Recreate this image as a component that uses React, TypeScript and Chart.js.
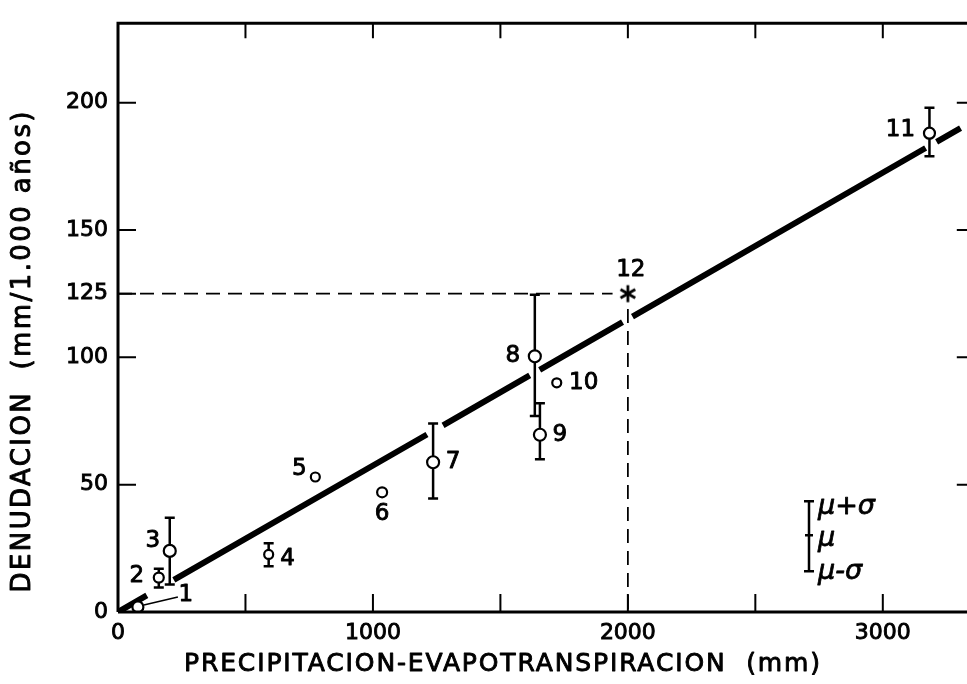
import React, { useEffect, useRef } from 'react';
import { Chart, registerables } from 'chart.js';

Chart.register(...registerables);

// ---- data ----
const pointLabels = ['1', '2', '3', '4', '5', '6', '7', '8', '9', '10', '11', '12'];
const precipitation = [78, 160, 203, 591, 774, 1036, 1236, 1635, 1655, 1721, 3183, 2000];
const denudation = [2, 13.5, 24, 22.6, 53, 47, 58.8, 100.4, 69.6, 90, 188, 125];
const sigmaLow = [null, 9.6, 10.8, 18, null, null, 44.6, 77, 60, null, 179, null];
const sigmaHigh = [null, 17, 37, 27, null, null, 74, 124.6, 82, null, 198, null];

// regression line, drawn as broken segments (gaps where it crosses bars)
const fitSegmentsX = [[0, 113], [219, 1212], [1275, 1615], [1654, 1979], [2018, 3168], [3211, 3305]];
const fitSegmentsY = [[0, 6.5], [12.6, 69.7], [73.3, 92.9], [95.1, 113.8], [116.0, 182.2], [184.6, 190.0]];

// dashed reading guide for point 12
const guideHorizX = [0, 1940];
const guideHorizY = [125, 125];
const guideVertX = [2000, 2000];
const guideVertY = [119, 0];

const xTickValues = [0, 500, 1000, 1500, 2000, 2500, 3000];
const xTickLabels = ['0', '', '1000', '', '2000', '', '3000'];
const yTickValues = [0, 50, 100, 125, 150, 200];
const yTickLabels = ['0', '50', '100', '125', '150', '200'];
const rightTickValues = [0, 50, 100, 150, 200];

const xTitle = 'PRECIPITACION-EVAPOTRANSPIRACION  (mm)';
const yTitle = 'DENUDACION  (mm/1.000 años)';
const legendTexts = ['\u03bc+\u03c3', '\u03bc', '\u03bc-\u03c3'];

// ---- styles ----
const FONT = 'DejaVu Sans';
const CANVAS_W = 985;
const CANVAS_H = 684;
const markerRadius = [5.5, 5, 6, 4.5, 4.5, 5, 6, 6, 6, 4.5, 5.5, 10];
const labelOffsets = [[48, -12], [-22, -2], [-17, -10], [19, 5], [-16, -8], [0, 22], [20, 0], [-22, 0], [20, 0], [27, 0], [-29, -3], [3, -24]];

function makeAsterisk(): HTMLCanvasElement {
  const c = document.createElement('canvas');
  c.width = 22;
  c.height = 22;
  const g = c.getContext('2d')!;
  g.strokeStyle = '#000';
  g.lineWidth = 2.8;
  g.lineCap = 'butt';
  const r = 8.5;
  [90, 30, 150].forEach((deg) => {
    const a = (deg * Math.PI) / 180;
    g.beginPath();
    g.moveTo(11 - r * Math.cos(a), 11 - r * Math.sin(a));
    g.lineTo(11 + r * Math.cos(a), 11 + r * Math.sin(a));
    g.stroke();
  });
  return c;
}

function fillBold(ctx: CanvasRenderingContext2D, text: string, x: number, y: number) {
  ctx.strokeText(text, x, y);
  ctx.fillText(text, x, y);
}

function drawSpaced(ctx: CanvasRenderingContext2D, text: string, cx: number, cy: number, target: number) {
  (ctx as any).letterSpacing = '0px';
  const w0 = ctx.measureText(text).width;
  const ls = (target - w0) / (text.length - 1);
  (ctx as any).letterSpacing = ls + 'px';
  ctx.textAlign = 'left';
  ctx.textBaseline = 'middle';
  fillBold(ctx, text, cx - target / 2, cy);
  (ctx as any).letterSpacing = '0px';
}

export default function App() {
  const ref = useRef<HTMLCanvasElement | null>(null);

  useEffect(() => {
    if (!ref.current) return;
    const asterisk = makeAsterisk();

    const fitData: any[] = [];
    fitSegmentsX.forEach((seg, i) => {
      if (i > 0) fitData.push({ x: (fitSegmentsX[i - 1][1] + seg[0]) / 2, y: null });
      fitData.push({ x: seg[0], y: fitSegmentsY[i][0] });
      fitData.push({ x: seg[1], y: fitSegmentsY[i][1] });
    });

    const framePlugin = {
      id: 'frame',
      afterDraw(chart: any) {
        const { ctx, chartArea: a, scales } = chart;
        const xs = scales.x;
        const ys = scales.y;
        ctx.save();
        ctx.strokeStyle = '#000';
        ctx.lineWidth = 3;
        ctx.beginPath();
        ctx.moveTo(a.left, a.bottom);
        ctx.lineTo(a.left, a.top);
        ctx.lineTo(a.right, a.top);
        ctx.lineTo(a.right, a.bottom);
        ctx.lineTo(a.left, a.bottom);
        ctx.stroke();
        ctx.lineWidth = 2;
        ctx.beginPath();
        xTickValues.forEach((v) => {
          if (v === 0) return;
          const px = xs.getPixelForValue(v);
          ctx.moveTo(px, a.bottom);
          ctx.lineTo(px, a.bottom - 18);
          ctx.moveTo(px, a.top);
          ctx.lineTo(px, a.top + 15);
        });
        yTickValues.forEach((v) => {
          if (v === 0) return;
          const py = ys.getPixelForValue(v);
          ctx.moveTo(a.left, py);
          ctx.lineTo(a.left + 18, py);
        });
        rightTickValues.forEach((v) => {
          if (v === 0) return;
          const py = ys.getPixelForValue(v);
          ctx.moveTo(a.right, py);
          ctx.lineTo(a.right - 16, py);
        });
        ctx.stroke();
        ctx.restore();
      },
    };

    const errorPlugin = {
      id: 'errorBars',
      beforeDatasetsDraw(chart: any) {
        const { ctx, scales } = chart;
        ctx.save();
        ctx.strokeStyle = '#000';
        ctx.lineWidth = 2.5;
        precipitation.forEach((xv, i) => {
          const lo = sigmaLow[i];
          const hi = sigmaHigh[i];
          if (lo == null || hi == null) return;
          const px = scales.x.getPixelForValue(xv);
          const pl = scales.y.getPixelForValue(lo);
          const ph = scales.y.getPixelForValue(hi);
          ctx.beginPath();
          ctx.moveTo(px, pl);
          ctx.lineTo(px, ph);
          ctx.moveTo(px - 5, pl);
          ctx.lineTo(px + 5, pl);
          ctx.moveTo(px - 5, ph);
          ctx.lineTo(px + 5, ph);
          ctx.stroke();
        });
        ctx.restore();
      },
    };

    const textPlugin = {
      id: 'texts',
      afterDraw(chart: any) {
        const { ctx, scales, chartArea: a } = chart;
        ctx.save();
        ctx.fillStyle = '#000';
        ctx.strokeStyle = '#000';
        ctx.lineJoin = 'round';
        // point labels
        ctx.lineWidth = 0.9;
        ctx.font = `23px "${FONT}"`;
        ctx.textAlign = 'center';
        ctx.textBaseline = 'middle';
        precipitation.forEach((xv, i) => {
          const px = scales.x.getPixelForValue(xv);
          const py = scales.y.getPixelForValue(denudation[i]);
          fillBold(ctx, pointLabels[i], px + labelOffsets[i][0], py + labelOffsets[i][1]);
        });
        // leader line for point 1
        {
          const px = scales.x.getPixelForValue(precipitation[0]);
          const py = scales.y.getPixelForValue(denudation[0]);
          ctx.lineWidth = 1.5;
          ctx.beginPath();
          ctx.moveTo(px + 6, py - 2);
          ctx.lineTo(px + 40, py - 10);
          ctx.stroke();
        }
        // legend (sigma bar)
        const lx = a.left + 691;
        const lTop = a.top + 478;
        const lMid = a.top + 512;
        const lBot = a.top + 548;
        ctx.lineWidth = 2.5;
        ctx.beginPath();
        ctx.moveTo(lx, lTop);
        ctx.lineTo(lx, lBot);
        ctx.moveTo(lx - 5, lTop);
        ctx.lineTo(lx + 5, lTop);
        ctx.moveTo(lx - 5, lBot);
        ctx.lineTo(lx + 5, lBot);
        ctx.moveTo(lx - 4, lMid);
        ctx.lineTo(lx + 4, lMid);
        ctx.stroke();
        ctx.lineWidth = 0.8;
        ctx.font = `italic 27px "${FONT}"`;
        ctx.textAlign = 'left';
        fillBold(ctx, legendTexts[0], lx + 9, lTop + 6);
        fillBold(ctx, legendTexts[1], lx + 9, lMid + 4);
        fillBold(ctx, legendTexts[2], lx + 9, lBot + 1);
        // axis titles
        ctx.lineWidth = 0.9;
        ctx.font = `25px "${FONT}"`;
        drawSpaced(ctx, xTitle, 502, 664, 636);
        ctx.save();
        ctx.translate(23, 352);
        ctx.rotate(-Math.PI / 2);
        ctx.font = `26px "${FONT}"`;
        drawSpaced(ctx, yTitle, 0, 0, 481);
        ctx.restore();
        ctx.restore();
      },
    };

    const chart = new Chart(ref.current, {
      type: 'scatter',
      data: {
        datasets: [
          {
            label: 'Cuencas',
            data: precipitation.map((x, i) => ({ x, y: denudation[i] })),
            pointRadius: markerRadius,
            pointHoverRadius: markerRadius,
            pointBackgroundColor: '#fff',
            pointBorderColor: '#000',
            pointBorderWidth: 2.2,
            pointStyle: precipitation.map((_, i) => (i === 11 ? asterisk : 'circle')) as any,
            showLine: false,
          },
          {
            label: 'Ajuste',
            data: fitData,
            showLine: true,
            spanGaps: false,
            borderColor: '#000',
            borderWidth: 6,
            borderCapStyle: 'butt',
            pointRadius: 0,
          },
          {
            label: 'Guia horizontal',
            data: guideHorizX.map((x, i) => ({ x, y: guideHorizY[i] })),
            showLine: true,
            borderColor: '#000',
            borderWidth: 1.8,
            borderDash: [14, 8],
            pointRadius: 0,
          },
          {
            label: 'Guia vertical',
            data: guideVertX.map((x, i) => ({ x, y: guideVertY[i] })),
            showLine: true,
            borderColor: '#000',
            borderWidth: 1.8,
            borderDash: [14, 8],
            pointRadius: 0,
          },
        ],
      } as any,
      options: {
        animation: false,
        responsive: false,
        devicePixelRatio: 1,
        layout: { padding: { top: 11, right: 11, left: 0, bottom: 0 } },
        plugins: { legend: { display: false }, tooltip: { enabled: false } },
        scales: {
          x: {
            type: 'linear',
            min: 0,
            max: 3353,
            grid: { display: false, drawTicks: false },
            border: { display: false },
            afterBuildTicks: (s: any) => {
              s.ticks = xTickValues.map((v) => ({ value: v }));
            },
            afterFit: (s: any) => {
              s.height = 72;
            },
            ticks: {
              autoSkip: false,
              maxRotation: 0,
              padding: 8,
              color: '#000',
              textStrokeColor: '#000',
              textStrokeWidth: 0.9,
              font: { family: FONT, size: 22 },
              callback: (v: any) => {
                const k = xTickValues.indexOf(Number(v));
                return k >= 0 ? xTickLabels[k] : '';
              },
            },
          },
          y: {
            type: 'linear',
            min: 0,
            max: 231.2,
            grid: { display: false, drawTicks: false },
            border: { display: false },
            afterBuildTicks: (s: any) => {
              s.ticks = yTickValues.map((v) => ({ value: v }));
            },
            afterFit: (s: any) => {
              s.width = 118;
            },
            ticks: {
              autoSkip: false,
              padding: 10,
              color: '#000',
              textStrokeColor: '#000',
              textStrokeWidth: 0.9,
              font: { family: FONT, size: 22 },
              callback: (v: any) => {
                const k = yTickValues.indexOf(Number(v));
                return k >= 0 ? yTickLabels[k] : '';
              },
            },
          },
        },
      } as any,
      plugins: [errorPlugin, framePlugin, textPlugin],
    });
    return () => chart.destroy();
  }, []);

  return (
    <div
      style={{
        position: 'fixed',
        left: 0,
        top: 0,
        width: 967,
        height: 684,
        overflow: 'hidden',
        background: '#fff',
      }}
    >
      <canvas ref={ref} width={CANVAS_W} height={CANVAS_H} style={{ display: 'block', width: CANVAS_W, height: CANVAS_H }} />
    </div>
  );
}
